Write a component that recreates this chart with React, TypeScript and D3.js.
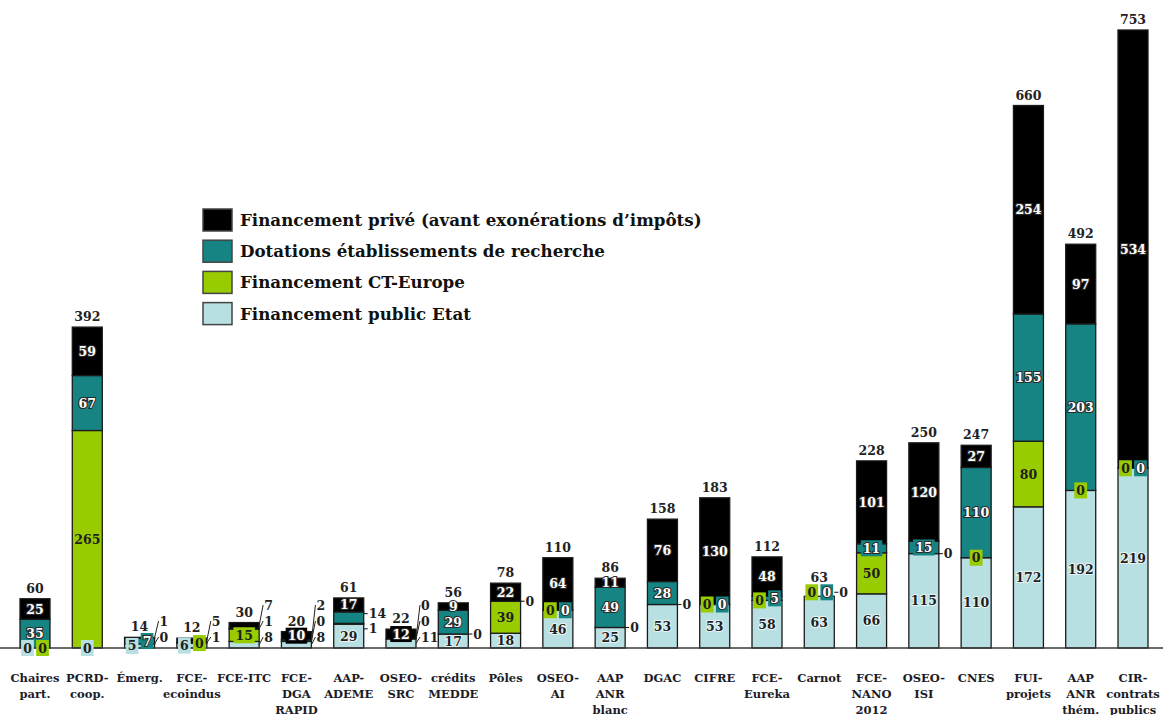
import React from "react";
import * as d3 from "d3";

// ---------- DATA ----------
const categories = [
  "Chaires\npart.", "PCRD-\ncoop.", "Émerg.", "FCE-\necoindus", "FCE-ITC", "FCE-\nDGA\nRAPID",
  "AAP-\nADEME", "OSEO-\nSRC", "crédits\nMEDDE", "Pôles", "OSEO-\nAI", "AAP\nANR\nblanc",
  "DGAC", "CIFRE", "FCE-\nEureka", "Carnot", "FCE-\nNANO\n2012", "OSEO-\nISI", "CNES",
  "FUI-\nprojets", "AAP\nANR\nthém.", "CIR-\ncontrats\npublics",
];
const publicEtat = [0, 0, 5, 6, 8, 8, 29, 11, 17, 18, 46, 25, 53, 53, 58, 63, 66, 115, 110, 172, 192, 219];
const ctEurope = [0, 265, 0, 0, 15, 0, 1, 0, 0, 39, 0, 0, 0, 0, 0, 0, 50, 0, 0, 80, 0, 0];
const dotations = [35, 67, 7, 1, 1, 2, 14, 0, 29, 0, 0, 49, 28, 0, 5, 0, 11, 15, 110, 155, 203, 0];
const prive = [25, 59, 1, 5, 7, 10, 17, 12, 9, 22, 64, 11, 76, 130, 48, 0, 101, 120, 27, 254, 97, 534];
const totals = [60, 392, 14, 12, 30, 20, 61, 22, 56, 78, 110, 86, 158, 183, 112, 63, 228, 250, 247, 660, 492, 753];

const legendLabels = [
  "Financement privé (avant exonérations d’impôts)",
  "Dotations établissements de recherche",
  "Financement CT-Europe",
  "Financement public Etat",
];

// ---------- LABEL PLACEMENT (style config) ----------
const placePublic = ["boxL","box","boxL","boxL","s0","s0","in","s0","in","in","in","in","in","in","in","in","in","in","in","in","in","in"];
const placeCT = ["boxR","in","s0","boxR","box","s1","r+5","s1","r","in","boxL","r","r","boxL","boxL","boxL-4","in","r","box","in","box","boxL"];
const placeDot = ["in","in","boxR","s0","s1","s2","r-4","s2","in","r","boxR","in","in","boxR","boxR","boxR-4","box","box","in","in","in","boxR"];
const placePrive = ["in","in","s1","s1","s2","box","in","box","in","in","in","in","in","in","in","r-4","in","in","in","in","in","in"];

const COLORS = { public: "#b8dfe2", ct: "#99cc00", dot: "#158482", prive: "#000000" };
const FONT = "'DejaVu Serif', 'Liberation Serif', serif";

const W = 1163, H = 715;
const BAR_W = 30;

export default function App() {
  const n = categories.length;
  const rows = categories.map((c, i) => ({
    idx: String(i), public: publicEtat[i], ct: ctEurope[i], dot: dotations[i], prive: prive[i],
  }));
  const keys = ["public", "ct", "dot", "prive"];
  const places: Record<string, string[]> = { public: placePublic, ct: placeCT, dot: placeDot, prive: placePrive };
  const stack = d3.stack<any>().keys(keys)(rows);

  const x = d3.scalePoint<string>().domain(d3.range(n).map(String)).range([35, 1133]);
  const y = d3.scaleLinear().domain([0, d3.max(totals) as number]).range([648, 30]);
  const y0 = y(0);

  const labelFont = 12.5;
  const digitW = labelFont * 0.7;

  const labelEls: any[] = [];
  const leaderEls: any[] = [];
  const boxTops: number[] = categories.map(() => Infinity);

  stack.forEach((layer) => {
    const key = layer.key as string;
    const color = (COLORS as any)[key];
    const darkBg = key === "prive" || key === "dot";
    layer.forEach((d, i) => {
      const v = (rows[i] as any)[key] as number;
      const code = places[key][i];
      const cx = x(String(i)) as number;
      const right = cx + BAR_W / 2;
      const top = y(d[1]);
      const bot = y(d[0]);
      const mid = (top + bot) / 2;
      const text = String(v);
      const k = `${key}-${i}`;
      if (code === "in") {
        labelEls.push(
          <text key={k} x={cx} y={mid} dy="0.36em" textAnchor="middle"
            fill={darkBg ? "#ffffff" : "#1e1e1e"}
            stroke={darkBg ? "#2a2a2a" : key === "public" ? "rgba(255,255,255,0.7)" : "none"}
            strokeWidth={darkBg ? 2.2 : 2} paintOrder="stroke"
            fontSize={labelFont} fontWeight="bold" fontFamily={FONT}>{text}</text>
        );
      } else if (code.startsWith("box")) {
        const side = code.slice(3, 4);
        const off = side === "L" ? -7.5 : side === "R" ? 7.5 : 0;
        const dy = parseFloat(code.replace(/^box[LR]?/, "")) || 0;
        const bw = text.length * digitW + 4;
        const bh = 16;
        const cy = mid + dy;
        boxTops[i] = Math.min(boxTops[i], cy - bh / 2);
        labelEls.push(
          <g key={k}>
            <rect x={cx + off - bw / 2} y={cy - bh / 2} width={bw} height={bh} fill={color} />
            <text x={cx + off} y={cy} dy="0.36em" textAnchor="middle"
              fill={darkBg ? "#ffffff" : "#1e1e1e"}
              stroke={darkBg ? "#2a2a2a" : "none"} strokeWidth={2} paintOrder="stroke"
              fontSize={labelFont} fontWeight="bold" fontFamily={FONT}>{text}</text>
          </g>
        );
      } else if (code.startsWith("r")) {
        const dy = parseFloat(code.slice(1)) || 0;
        const ly = mid + dy;
        leaderEls.push(<line key={"l" + k} x1={right} x2={right + 4} y1={ly} y2={ly} stroke="#222" strokeWidth={1.1} />);
        labelEls.push(
          <text key={k} x={right + 5} y={ly} dy="0.36em" textAnchor="start" fill="#1e1e1e"
            fontSize={labelFont} fontWeight="bold" fontFamily={FONT}>{text}</text>
        );
      } else if (code.startsWith("s")) {
        const slot = parseInt(code.slice(1), 10);
        const ly = y0 - 11 - 16 * slot;
        leaderEls.push(<line key={"l" + k} x1={right} x2={right + 4} y1={mid} y2={ly} stroke="#222" strokeWidth={1} />);
        labelEls.push(
          <text key={k} x={right + 5} y={ly} dy="0.36em" textAnchor="start" fill="#1e1e1e"
            fontSize={labelFont} fontWeight="bold" fontFamily={FONT}>{text}</text>
        );
      }
    });
  });

  const topLayer = stack[stack.length - 1];

  return (
    <svg width={W} height={H} style={{ position: "absolute", left: 0, top: 0, background: "#fff" }}>
      {/* bars */}
      {stack.map((layer) => (
        <g key={layer.key as string}>
          {layer.map((d, i) => {
            const h = y(d[0]) - y(d[1]);
            if (h <= 0) return null;
            const cx = x(String(i)) as number;
            return (
              <rect key={i} x={cx - BAR_W / 2} y={y(d[1])} width={BAR_W} height={h}
                fill={(COLORS as any)[layer.key as string]} stroke="#1a1a1a" strokeWidth={1.3} />
            );
          })}
        </g>
      ))}
      {/* baseline */}
      <line x1={0} x2={W} y1={y0} y2={y0} stroke="#3a3a3a" strokeWidth={1.6} />
      {leaderEls}
      {labelEls}
      {/* totals */}
      {topLayer.map((d, i) => (
        <text key={"t" + i} x={x(String(i)) as number} y={Math.min(y(d[1]) - 6, boxTops[i] - 2)} textAnchor="middle"
          fill="#222" fontSize={12.5} fontWeight="bold" fontFamily={FONT}>{totals[i]}</text>
      ))}
      {/* category labels */}
      {categories.map((c, i) => (
        <text key={"c" + i} x={x(String(i)) as number} y={682} textAnchor="middle"
          fill="#1c1c28" fontSize={11.5} fontWeight="bold" fontFamily={FONT}>
          {c.split("\n").map((line, j) => (
            <tspan key={j} x={x(String(i)) as number} y={682 + 16 * j}>{line}</tspan>
          ))}
        </text>
      ))}
      {/* legend */}
      {legendLabels.map((lab, i) => {
        const ly = 209 + 31.2 * i;
        const col = [COLORS.prive, COLORS.dot, COLORS.ct, COLORS.public][i];
        return (
          <g key={"lg" + i}>
            <rect x={203} y={ly} width={29} height={22} fill={col} stroke="#444" strokeWidth={1.5} />
            <text x={240} y={ly + 17} fill="#111" fontSize={16.7} fontWeight="bold" fontFamily={FONT}>{lab}</text>
          </g>
        );
      })}
    </svg>
  );
}
